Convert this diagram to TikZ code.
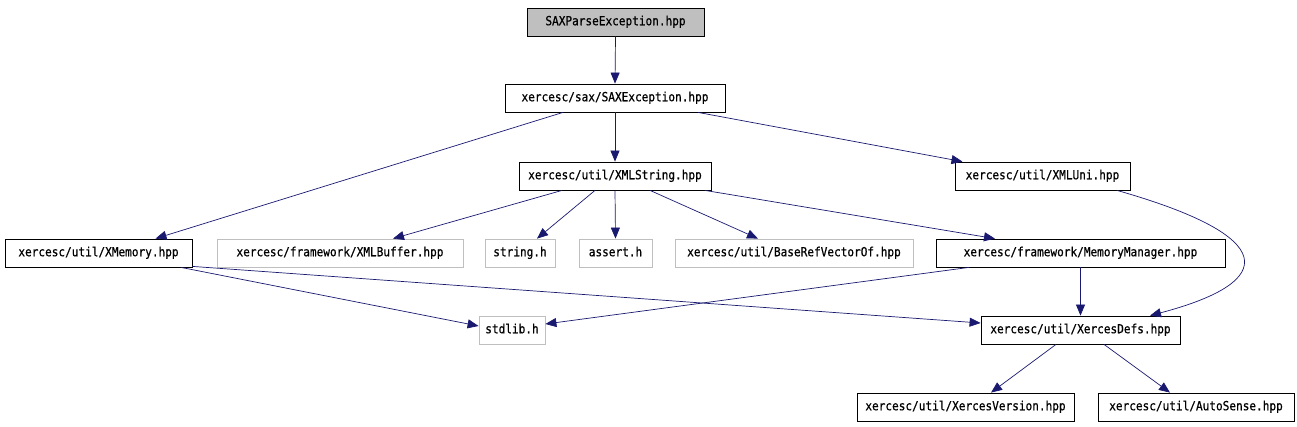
\documentclass[tikz,border=0pt]{standalone}
\usepackage{fontspec}
\newfontfamily\boxfont[FakeStretch=0.88,FakeBold=0.6]{DejaVu Sans Mono}
\usetikzlibrary{arrows.meta}
\definecolor{edgec}{HTML}{191970}
\definecolor{greyb}{HTML}{BFBFBF}
\definecolor{fillg}{HTML}{BFBFBF}
\tikzset{
  filebox/.style={draw=black, line width=0.8pt, rectangle, minimum height=28pt, inner sep=0pt,
    text height=8.5pt, text depth=2pt,
    font=\boxfont\fontsize{12.6}{13}\selectfont, anchor=center},
  extbox/.style={filebox, draw=greyb},
  dep/.style={draw=edgec, line width=0.7pt, -{Triangle[length=11pt,width=9pt]}, color=edgec},
}
\begin{document}
\begin{tikzpicture}[x=1pt,y=-1pt]
\useasboundingbox (0,0) rectangle (1297,426);
\node[filebox, fill=fillg, minimum width=177pt] (spe) at (615.5,22) {SAXParseException.hpp};
\node[filebox, minimum width=220pt] (saxe) at (615,98) {xercesc/sax/SAXException.hpp};
\node[filebox, minimum width=192pt] (xmls) at (615,176) {xercesc/util/XMLString.hpp};
\node[filebox, minimum width=175pt] (xmluni) at (1042.5,176) {xercesc/util/XMLUni.hpp};
\node[filebox, minimum width=187pt] (xmem) at (98.5,253) {xercesc/util/XMemory.hpp};
\node[extbox, minimum width=246pt] (xmlbuf) at (340,253) {xercesc/framework/XMLBuffer.hpp};
\node[extbox, minimum width=70pt] (strh) at (520,253) {string.h};
\node[extbox, minimum width=73pt] (asrt) at (615.5,253) {assert.h};
\node[extbox, minimum width=238pt] (baseref) at (794,253) {xercesc/util/BaseRefVectorOf.hpp};
\node[filebox, minimum width=289pt] (memmgr) at (1080.5,253) {xercesc/framework/MemoryManager.hpp};
\node[extbox, minimum width=66pt] (stdlib) at (512,330) {stdlib.h};
\node[filebox, minimum width=199pt] (xdefs) at (1080.5,330) {xercesc/util/XercesDefs.hpp};
\node[filebox, minimum width=217pt] (xver) at (965.5,407) {xercesc/util/XercesVersion.hpp};
\node[filebox, minimum width=196pt] (autos) at (1196,407) {xercesc/util/AutoSense.hpp};

\draw[dep] (spe.south) -- (saxe.north);
\draw[dep] ([xshift=-52pt]saxe.south) -- ([xshift=57pt]xmem.north);
\draw[dep] (saxe.south) -- (xmls.north);
\draw[dep] ([xshift=83pt]saxe.south) -- ([xshift=-80pt]xmluni.north);
\draw[dep] ([xshift=-53pt]xmls.south) -- ([xshift=53pt]xmlbuf.north);
\draw[dep] ([xshift=-20pt]xmls.south) -- ([xshift=17pt]strh.north);
\draw[dep] (xmls.south) -- (asrt.north);
\draw[dep] ([xshift=35pt]xmls.south) -- ([xshift=-36pt]baseref.north);
\draw[dep] ([xshift=90pt]xmls.south) -- ([xshift=-85.5pt]memmgr.north);
\draw[dep] ([xshift=74.5pt]xmluni.south) .. controls +(162,46) and +(129,-34) .. ([xshift=69.5pt]xdefs.north);
\draw[dep] ([xshift=82.5pt]xmem.south) -- ([yshift=4pt]stdlib.west);
\draw[dep] ([yshift=1pt]xmem.south east) -- ([yshift=7pt]xdefs.west);
\draw[dep] ([xshift=-111.5pt]memmgr.south) -- ([yshift=6pt]stdlib.east);
\draw[dep] (memmgr.south) -- (xdefs.north);
\draw[dep] ([xshift=-24.5pt]xdefs.south) -- ([xshift=25.5pt]xver.north);
\draw[dep] ([xshift=23.5pt]xdefs.south) -- ([xshift=-26pt]autos.north);
\end{tikzpicture}
\end{document}
